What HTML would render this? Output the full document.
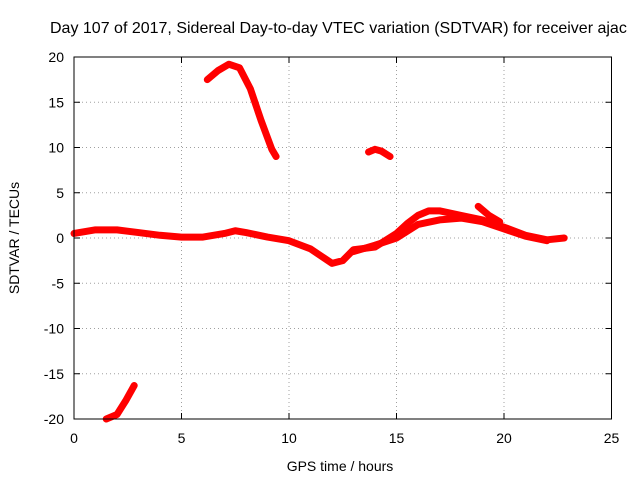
<!DOCTYPE html>
<html><head><meta charset="utf-8"><style>
body{margin:0;background:#fff}
svg{display:block;font-family:"Liberation Sans",sans-serif;font-size:14px}
</style></head><body>
<svg id="c" width="640" height="480">
<text x="50" y="33" style="font-size:16px">Day 107 of 2017, Sidereal Day-to-day VTEC variation (SDTVAR) for receiver ajac</text>
<text x="340" y="471" text-anchor="middle">GPS time / hours</text>
<text transform="translate(19,238) rotate(-90)" text-anchor="middle">SDTVAR / TECUs</text>
<g id="grid"></g><g id="marks"></g><g id="axes"></g>
</svg>
<script>
const xTicks=[0,5,10,15,20,25];
const yTicks=[-20,-15,-10,-5,0,5,10,15,20];
const mainT=[0,1,2,3,4,5,6,7,7.5,8,9,10,11,11.5,12,12.5,13,14,15,15.5,16,16.5,17,18,19,20,21,22,22.8];
const mainV=[0.5,0.9,0.9,0.6,0.3,0.1,0.1,0.5,0.8,0.6,0.1,-0.3,-1.2,-2,-2.8,-2.5,-1.3,-1,0.5,1.6,2.5,3,3,2.5,2,1.2,0.3,-0.2,0];
const band2T=[13,14,15,16,17,18,19,20,21,22];
const band2V=[-1.5,-0.8,0,1.5,2,2.2,1.8,1,0.2,-0.3];
const arcT=[6.2,6.7,7.2,7.7,8.2,8.7,9.2,9.4];
const arcV=[17.5,18.5,19.2,18.8,16.5,13,9.8,9];
const smallT=[13.7,14,14.3,14.7];
const smallV=[9.5,9.8,9.6,9];
const lowT=[1.5,2,2.4,2.8];
const lowV=[-20,-19.5,-18,-16.3];
const spikeT=[18.8,19.3,19.8];
const spikeV=[3.5,2.5,1.8];
const X0=74,X1=611.5,Y0=419,Y1=57;
const sx=t=>X0+(t-0)/(25-0)*(X1-X0);
const sy=v=>Y0-(v+20)/40*(Y0-Y1);
const NS='http://www.w3.org/2000/svg';
function mk(tag,attrs,parent){const e=document.createElementNS(NS,tag);for(const k in attrs)e.setAttribute(k,attrs[k]);document.getElementById(parent).appendChild(e);return e;}
xTicks.forEach(t=>{
 if(t>0&&t<25){const g=mk('line',{x1:sx(t),x2:sx(t),y1:Y0,y2:Y1,stroke:'#a0a0a0','stroke-dasharray':'1,3'},'grid');}
 const tx=mk('text',{x:sx(t),y:443,'text-anchor':'middle'},'axes');tx.textContent=t;
 
 mk('line',{x1:sx(t),x2:sx(t),y1:Y0,y2:Y0-6,stroke:'#000'},'axes');
 mk('line',{x1:sx(t),x2:sx(t),y1:Y1,y2:Y1+6,stroke:'#000'},'axes');
});
yTicks.forEach(v=>{
 if(v>-20&&v<20){const g=mk('line',{x1:X0,x2:X1,y1:sy(v),y2:sy(v),stroke:'#a0a0a0','stroke-dasharray':'1,3'},'grid');}
 const tx=mk('text',{x:64,y:sy(v)+5,'text-anchor':'end'},'axes');tx.textContent=v;
 
 mk('line',{x1:X0,x2:X0+6,y1:sy(v),y2:sy(v),stroke:'#000'},'axes');
 mk('line',{x1:X1,x2:X1-6,y1:sy(v),y2:sy(v),stroke:'#000'},'axes');
});
const fr=mk('rect',{x:X0,y:Y1,width:X1-X0,height:Y0-Y1,fill:'none',stroke:'#000'},'axes');

function series(T,V,name){
 const p=mk('polyline',{points:T.map((t,i)=>sx(t)+','+sy(V[i])).join(' '),fill:'none',stroke:'#ff0000','stroke-width':7,'stroke-linejoin':'round','stroke-linecap':'round'},'marks');
 
 
}
series(mainT,mainV,'main-band');
series(band2T,band2V,'second-band');
series(arcT,arcV,'arc-segment');
series(smallT,smallV,'small-segment');
series(lowT,lowV,'low-segment');
series(spikeT,spikeV,'spike-segment');
</script>
</body></html>
